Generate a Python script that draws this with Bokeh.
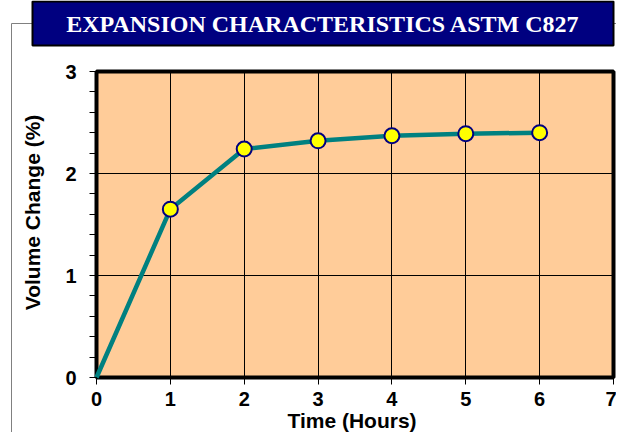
from math import pi
from bokeh.plotting import figure
from bokeh.models import FixedTicker, Range1d, Grid
from bokeh.core.properties import value
from bokeh.embed import file_html
from bokeh.resources import INLINE

# ---- data ----
hours = [0, 1, 2, 3, 4, 5, 6]
volume_change = [0.0, 1.65, 2.24, 2.32, 2.37, 2.39, 2.40]
x_ticks = [0, 1, 2, 3, 4, 5, 6, 7]
y_ticks = [0, 1, 2, 3]
y_minor = [0.2, 0.4, 0.6, 0.8, 1.2, 1.4, 1.6, 1.8, 2.2, 2.4, 2.6, 2.8]
title_text = "EXPANSION CHARACTERISTICS ASTM C827"
x_title = "Time (Hours)"
y_title = "Volume Change (%)"

# ---- layout (canvas pixels) ----
W, H = 616, 432
PL, PR, PT, PB = 96, 613, 71, 377          # plot-area box in canvas pixels
x0, x1 = x_ticks[0], x_ticks[-1]
y0, y1 = y_ticks[0], y_ticks[-1]
sx = (PR - PL) / (x1 - x0)
sy = (PB - PT) / (y1 - y0)

p = figure(width=W, height=H, output_backend="svg", toolbar_location=None,
           x_range=Range1d(x0 - PL / sx, x1 + (W - PR) / sx),
           y_range=Range1d(y0 - (H - PB) / sy, y1 + PT / sy),
           min_border=0, min_border_left=0, min_border_right=0,
           min_border_top=0, min_border_bottom=0)
p.extra_x_ranges = {"px": Range1d(0, W)}
p.extra_y_ranges = {"px": Range1d(H, 0)}
p.background_fill_color = "white"
p.border_fill_color = "white"
p.outline_line_color = None

# axes fixed at the plot-area edges
p.xaxis.fixed_location = y0
p.yaxis.fixed_location = x0
p.xaxis.bounds = (x0, x1)
p.yaxis.bounds = (y0, y1)
xt = FixedTicker(ticks=x_ticks)
yt = FixedTicker(ticks=y_ticks, minor_ticks=y_minor)
p.xaxis.ticker = xt
p.yaxis.ticker = yt
p.xgrid.ticker = xt
p.ygrid.ticker = yt

for ax in (p.xaxis[0], p.yaxis[0]):
    ax.axis_line_color = None
    ax.major_tick_out = 7
    ax.major_tick_in = 0
    ax.major_tick_line_color = "black"
    ax.major_label_text_font = "Liberation Sans"
    ax.major_label_text_font_style = "bold"
    ax.major_label_text_font_size = "20px"
    ax.major_label_text_color = "black"
p.xaxis.minor_tick_line_color = None
p.xaxis.major_label_standoff = 7
p.yaxis.minor_tick_out = 7
p.yaxis.minor_tick_in = 0
p.yaxis.minor_tick_line_color = "black"
p.yaxis.major_label_standoff = 13

has_cross = "cross_bounds" in Grid.properties()
if has_cross:
    p.xgrid.bounds = (x0, x1)
    p.xgrid.cross_bounds = (y0, y1)
    p.ygrid.bounds = (y0, y1)
    p.ygrid.cross_bounds = (x0, x1)
    for g in (p.xgrid[0], p.ygrid[0]):
        g.grid_line_color = "black"
        g.grid_line_width = 1
else:
    p.xgrid.grid_line_color = None
    p.ygrid.grid_line_color = None

# plot-area fill (below grid)
p.quad(left=[x0], right=[x1], bottom=[y0], top=[y1], fill_color="#FFCC99",
       line_color=None, level="image")
if not has_cross:
    p.segment(x0=x_ticks[1:-1], x1=x_ticks[1:-1], y0=[y0] * 6, y1=[y1] * 6,
              line_color="black", line_width=1)
    p.segment(x0=[x0] * 2, x1=[x1] * 2, y0=y_ticks[1:-1], y1=y_ticks[1:-1],
              line_color="black", line_width=1)

# outer grey frame line + title box (pixel coordinates)
p.line(x=[11, 11, W + 5], y=[H + 5, 23, 23], line_color="#808080", line_width=1,
       x_range_name="px", y_range_name="px")
p.quad(left=[32], right=[613], top=[1], bottom=[45], fill_color="#000080",
       line_color="black", line_width=2, x_range_name="px", y_range_name="px")
p.text(x=[322.5], y=[23], text=[title_text], text_align="center",
       text_baseline="middle", text_font=value("Liberation Serif"),
       text_font_style="bold", text_font_size="24px", text_color="white",
       x_range_name="px", y_range_name="px")
p.text(x=[351.5], y=[420], text=[x_title], text_align="center",
       text_baseline="middle", text_font=value("Liberation Sans"),
       text_font_style="bold", text_font_size="21px", text_color="black",
       x_range_name="px", y_range_name="px")
p.text(x=[32], y=[212], text=[y_title], text_align="center",
       text_baseline="middle", angle=pi / 2, text_font=value("Liberation Sans"),
       text_font_style="bold", text_font_size="21px", text_color="black",
       x_range_name="px", y_range_name="px")

# plot-area border
p.quad(left=[x0], right=[x1], bottom=[y0], top=[y1], fill_color=None,
       line_color="black", line_width=4)

# data
p.line(hours, volume_change, line_color="#008080", line_width=4.5)
p.scatter(hours[1:], volume_change[1:], size=15, marker="circle",
          fill_color="#FFFF00", line_color="#000080", line_width=2)

open("out.html", "w").write(file_html(p, INLINE))
